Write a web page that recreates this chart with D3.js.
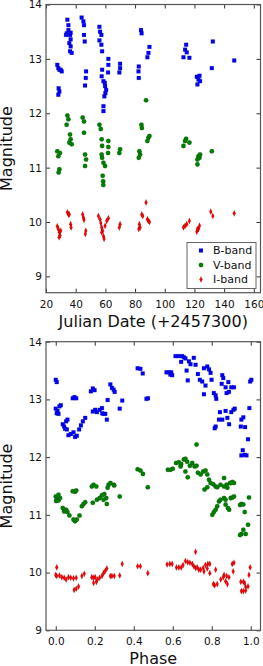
<!DOCTYPE html>
<html>
<head>
<meta charset="utf-8">
<script src="https://cdn.jsdelivr.net/npm/d3@7"></script>
<style>
  body { margin: 0; background: #fff; }
  svg text { font-family: "DejaVu Sans", sans-serif; fill: #111; }
</style>
</head>
<body>
<div id="chart"></div>
<script>
"use strict"

// ---- light curve vs date (JD - 2457300) ----
var bDate = [27.6,28.3,29.0,29.9,30.6,28.5,29.0,28.3,
  34.4,35.1,34.0,33.5,36.2,36.6,35.7,36.6,36.2,37.3,35.1,36.6,
  44.0,45.2,45.6,45.6,46.1,47.0,46.8,46.3,
  56.0,56.4,57.3,56.0,57.3,57.8,57.8,57.5,58.7,59.6,59.8,60.5,60.0,59.3,58.7,58.7,
  62.0,62.0,61.8,69.9,69.9,69.4,84.0,84.4,82.5,82.3,82.5,
  89.7,89.0,88.3,114.4,113.7,114.8,112.6,116.6,
  121.6,122.7,123.4,122.0,123.8,131.7,132.4,146.8];
var bMag = [12.89,12.83,12.80,12.80,12.77,12.46,12.40,12.34,
  13.72,13.62,13.47,13.44,13.44,13.36,13.29,13.23,13.14,13.11,13.53,13.48,
  13.76,13.69,13.62,13.44,13.32,12.77,12.65,12.51,
  13.59,13.50,13.44,13.34,13.26,13.14,12.80,12.68,12.59,12.56,12.50,12.43,12.37,12.31,12.13,12.04,
  13.00,12.89,12.75,12.91,12.83,12.75,13.53,13.47,12.86,12.77,12.65,
  13.22,13.11,13.03,13.26,13.17,13.12,13.03,13.02,
  12.67,12.62,12.69,12.53,12.59,12.83,13.32,12.97];

var vDate = [34.4,33.9,35.1,36.2,36.6,35.7,37.3,44.7,45.6,45.6,
  56.0,56.9,57.5,57.8,62.0,62.0,61.8,69.9,69.4,
  82.9,83.4,82.5,84.3,84.6,87.4,89.0,89.7,88.3,
  27.6,29.4,28.3,29.0,28.5,46.3,47.0,46.3,
  57.5,57.8,58.7,59.8,58.2,58.5,58.6,
  114.4,113.7,116.6,112.6,122.7,123.4,122.0,123.8,122.0,131.7];
var vMag = [11.96,11.79,11.89,11.61,11.52,11.46,11.43,11.92,11.85,11.64,
  11.79,11.71,11.52,11.40,11.49,11.38,11.27,11.34,11.27,
  11.30,11.24,11.18,11.79,11.73,12.24,11.55,11.58,11.49,
  11.30,11.27,11.21,10.97,10.91,11.24,11.15,11.03,
  11.24,11.18,11.09,11.03,10.85,10.75,10.68,
  11.53,11.49,11.46,11.40,11.21,11.18,11.15,11.24,11.06,11.30];

var iDate = [27.6,28.3,29.0,29.9,29.4,28.8,34.4,35.1,35.7,36.6,36.9,
  44.7,45.2,45.6,46.8,46.5,
  55.3,56.4,56.9,57.5,58.2,58.7,59.1,59.8,60.9,62.0,57.5,
  69.9,69.4,82.9,83.4,82.5,87.4,84.5,85.2,88.3,89.0,89.7,
  112.6,113.7,114.8,116.6,121.6,122.7,123.4,122.0,131.0,132.4,146.8];
var iMag = [9.92,9.87,9.81,9.84,9.75,9.72,10.18,10.14,10.14,9.96,9.90,
  10.14,10.08,10.04,9.84,9.78,
  10.11,10.05,9.98,9.90,9.84,9.74,9.69,9.93,10.02,10.07,9.81,
  9.96,9.90,9.96,9.90,9.87,10.36,10.14,10.11,10.05,10.02,10.00,
  9.90,9.93,9.96,10.02,9.82,9.87,9.93,9.87,10.19,10.11,10.16];

// ---- phase-folded light curve ----
var bPhase = [0,.005,0,.009,.014,.005,.026,.019,.036,.043,.053,.06,.048,.057,
  .065,.077,.091,.099,.108,.12,.129,.139,.151,.087,.096,.105,.18,.19,.199,
  .19,.202,.211,.225,.237,.245,.254,.262,.238,.266,.28,.288,.297,.302,.328,.341,
  .42,.434,.446,.465,.473,.568,.58,.592,.597,.588,.614,.631,.648,.657,.665,
  .643,.671,.677,.683,.691,.708,.717,.729,.739,.751,.76,.777,.786,.794,.799,.768,.76,
  .811,.82,.823,.854,.859,.851,.871,.876,.888,.9,.914,.885,
  .842,.854,.871,.837,.82,.815,.88,.889,.9,.911,.918,.952,.962,.971,.949,
  .986,.959,.952,.969,.978,.993,.997,1.003];
var bPhMag = [13.34,13.30,12.84,12.80,12.75,12.76,12.90,12.88,12.57,12.53,12.62,12.65,12.49,12.48,
  12.38,12.40,12.43,12.35,12.37,12.48,12.55,12.62,12.68,13.02,13.04,13.02,13.14,13.19,13.16,
  12.79,12.82,12.78,12.82,12.85,12.75,12.75,12.65,12.76,12.99,13.26,13.20,13.17,13.13,12.84,12.98,
  13.54,13.53,13.45,13.01,13.02,13.47,13.47,13.47,13.42,13.43,13.75,13.75,13.75,13.73,13.71,
  13.65,13.50,13.33,13.66,13.61,13.72,13.60,13.44,13.34,13.31,13.54,13.57,13.52,13.46,13.34,13.24,13.09,
  13.11,13.07,13.01,13.42,13.37,13.27,13.21,13.11,13.13,13.21,13.21,13.30,
  12.78,12.65,12.80,12.65,12.53,12.50,12.68,12.57,12.78,12.82,12.84,12.65,12.69,12.52,12.53,
  12.31,12.12,12.03,12.04,12.03,12.85,13.31,13.34];

var vPhase = [.722,.42,.434,.447,.575,.588,.6,.617,.631,.643,.657,.665,.674,.688,.7,.712,.722,
  .64,.665,.677,.729,.743,.756,.768,.777,.786,.794,.808,.82,.863,.876,.894,.906,.914,
  .185,.194,.271,.28,.297,.472,0,.005,.014,.022,.002,.014,.036,.043,.053,.06,.07,
  .091,.099,.108,.122,.087,.099,.105,.134,.142,.151,.208,.19,
  .211,.225,.237,.249,.259,.262,.245,.266,.3,.328,
  .763,.777,.828,.845,.863,.88,.897,
  .803,.811,.82,.828,.837,.845,.863,.871,.883,.889,.871,.897,.906,.914,
  .945,.952,.962,.969,.991,.986,.962,.952,.945,.974];
var vPhMag = [12.22,11.79,11.77,11.71,11.78,11.78,11.80,11.90,11.91,11.88,11.96,11.97,11.92,11.85,11.90,11.84,11.85,
  11.84,11.75,11.65,11.73,11.70,11.75,11.77,11.70,11.61,11.55,11.53,11.49,11.64,11.52,11.55,11.57,11.55,
  11.49,11.52,11.52,11.55,11.52,11.48,11.32,11.26,11.25,11.29,11.24,11.35,11.12,11.06,11.09,11.05,10.99,
  10.92,10.89,10.92,10.99,11.41,11.40,11.42,11.15,11.19,11.22,11.49,11.21,
  11.26,11.29,11.34,11.36,11.29,11.19,11.26,11.47,11.51,11.32,
  11.44,11.48,11.48,11.52,11.49,11.47,11.55,
  11.00,11.05,11.09,11.15,11.23,11.26,11.29,11.18,11.12,11.09,11.26,11.29,11.30,11.32,
  11.17,11.19,11.18,11.05,11.30,10.83,10.74,10.67,10.65,10.67];

var iPhase = [.005,0,.005,.019,.031,.043,.053,.065,.077,.091,.105,.094,.105,.117,.134,.146,
  .185,.194,.202,.194,.208,.214,.225,.237,.245,.254,.262,.28,.288,.3,.328,.341,
  .42,.434,.472,.571,.585,.597,
  .619,.631,.643,.653,.665,.677,.688,.7,.708,.717,.725,.734,.743,.717,
  .756,.768,.78,.79,.76,.777,.79,
  .82,.828,.815,.808,.846,.863,.876,.888,.871,.88,.859,.905,.914,.91,
  .949,.962,.969,.974,.952,.962,.974,.986,.997,.991];
var iPhMag = [10.09,9.96,9.94,9.95,9.92,9.91,9.88,9.92,9.91,9.90,9.91,9.70,9.72,9.76,9.94,9.98,
  9.92,9.91,9.92,9.82,9.84,9.88,9.91,9.94,9.99,10.03,10.07,9.94,9.94,9.94,9.95,10.15,
  10.11,10.11,9.99,10.14,10.15,10.15,
  10.09,10.09,10.09,10.13,10.20,10.18,10.17,10.15,10.11,10.08,10.09,10.05,10.05,10.36,
  10.08,10.13,10.15,10.15,10.02,10.07,9.99,
  10.05,9.80,9.78,9.80,9.88,9.96,9.94,9.92,9.85,9.80,9.92,10.15,10.17,10.02,
  9.84,9.84,9.82,9.75,9.68,9.68,9.69,9.76,10.09,9.96];

var yTicks = [9, 10, 11, 12, 13, 14];
var dateTicks = [20, 40, 60, 80, 100, 120, 140, 160];
var phaseTicks = [0, 0.2, 0.4, 0.6, 0.8, 1.0];
var bandNames = ['B-band', 'V-band', 'I-band'];
var bandColors = ['#0000ff', '#008000', '#ff0000'];

var W = 263, H = 666;
var svg = d3.select('#chart').append('svg')
  .attr('width', W)
  .attr('height', H);

var markers = [
  d3.symbol().type(d3.symbolSquare).size(15),
  d3.symbol().type(d3.symbolCircle).size(16),
  d3.symbol().type(d3.symbolDiamond).size(7)
];
// thin diamond for I-band
var markerScale = ['', '', ' scale(1,1.25)'];

function panel(top, bottom, xDomain, yDomain, xTicks, xFmt, series, xLabel, labelY) {
  var left = 46, right = 260.5;
  var x = d3.scaleLinear().domain(xDomain).range([left, right]);
  var y = d3.scaleLinear().domain(yDomain).range([bottom, top]);
  var g = svg.append('g');

  series.forEach(function (s, k) {
    g.append('g').selectAll('path')
      .data(s.x)
      .enter()
      .append('path')
      .attr('d', markers[k])
      .attr('transform', (d, i) => 'translate(' + x(d) + ',' + y(s.y[i]) + ')' + markerScale[k])
      .attr('fill', bandColors[k])
      .attr('stroke', '#000')
      .attr('stroke-opacity', 0.35)
      .attr('stroke-width', 0.4);
  });

  var axB = g.append('g').attr('transform', 'translate(0,' + bottom + ')')
    .call(d3.axisBottom(x).tickValues(xTicks).tickFormat(xFmt).tickSize(-4).tickPadding(7.5));
  var axT = g.append('g').attr('transform', 'translate(0,' + top + ')')
    .call(d3.axisTop(x).tickValues(xTicks).tickFormat('').tickSize(-4));
  var axL = g.append('g').attr('transform', 'translate(' + left + ',0)')
    .call(d3.axisLeft(y).tickValues(yTicks).tickFormat(d3.format('d')).tickSize(-4).tickPadding(4));
  var axR = g.append('g').attr('transform', 'translate(' + right + ',0)')
    .call(d3.axisRight(y).tickValues(yTicks).tickFormat('').tickSize(-4));

  [axB, axT, axL, axR].forEach(function (a) {
    a.select('.domain').remove();
    a.selectAll('line').attr('stroke', '#333');
    a.selectAll('text').style('font-size', '10.5px').attr('fill', '#111');
  });

  g.append('rect')
    .attr('x', left).attr('y', top)
    .attr('width', right - left).attr('height', bottom - top)
    .attr('fill', 'none')
    .attr('stroke', '#555')
    .attr('stroke-width', 1.2);

  g.append('text')
    .attr('transform', 'rotate(-90)')
    .attr('x', -(top + bottom) / 2)
    .attr('y', 12)
    .attr('text-anchor', 'middle')
    .style('font-size', '16px')
    .text('Magnitude');

  g.append('text')
    .attr('x', (left + right) / 2)
    .attr('y', labelY)
    .attr('text-anchor', 'middle')
    .style('font-size', '16px')
    .text(xLabel);

  return g;
}

var top1 = panel(4.5, 292.7, [20, 164.5], [8.7, 14], dateTicks, d3.format('d'),
  [{x: bDate, y: bMag}, {x: vDate, y: vMag}, {x: iDate, y: iMag}],
  'Julian Date (+2457300)', 327);

panel(341.7, 630.3, [-0.05, 1.05], [9, 14], phaseTicks, d3.format('.1f'),
  [{x: bPhase, y: bPhMag}, {x: vPhase, y: vPhMag}, {x: iPhase, y: iPhMag}],
  'Phase', 664);

// legend, lower right of the top panel
var legend = top1.append('g');
legend.append('rect')
  .attr('x', 187).attr('y', 242.5)
  .attr('width', 69).attr('height', 46)
  .attr('fill', '#fff')
  .attr('stroke', '#666')
  .attr('stroke-width', 1);

bandNames.forEach(function (name, k) {
  var ly = 250.5 + k * 14.5;
  legend.append('path')
    .attr('d', markers[k])
    .attr('transform', 'translate(201,' + ly + ')' + markerScale[k])
    .attr('fill', bandColors[k])
    .attr('stroke', '#000')
    .attr('stroke-opacity', 0.35)
    .attr('stroke-width', 0.4);
  legend.append('text')
    .attr('x', 213)
    .attr('y', ly)
    .attr('dy', '0.35em')
    .style('font-size', '11px')
    .text(name);
});
</script>
</body>
</html>
